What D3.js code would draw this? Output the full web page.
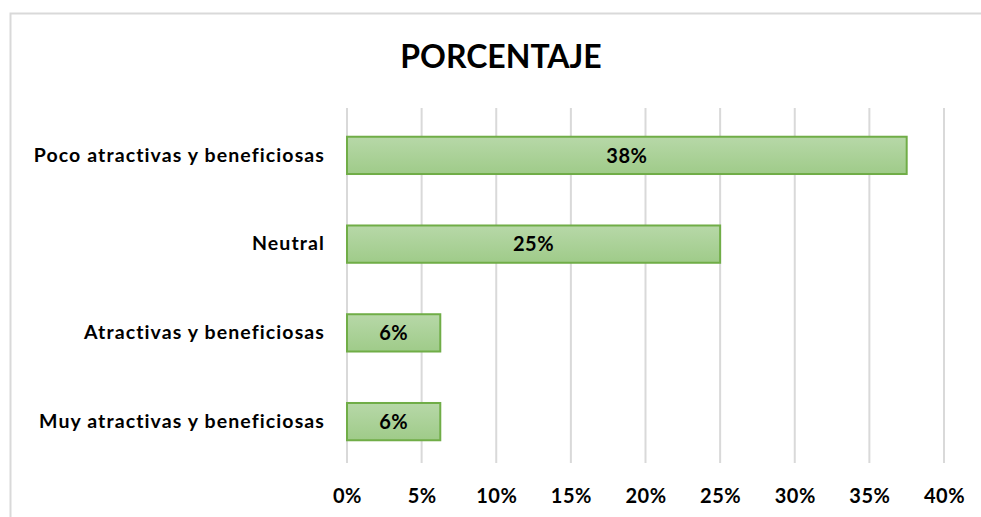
<!DOCTYPE html>
<html>
<head>
<meta charset="utf-8">
<script src="https://cdn.jsdelivr.net/npm/d3@7"></script>
<style>
  body { margin: 0; background: #fff; }
  svg text { font-family: Lato, "Open Sans", sans-serif; font-weight: bold; fill: #000; }
</style>
</head>
<body>
<script>
//chart data
var categories = ["Poco atractivas y beneficiosas", "Neutral", "Atractivas y beneficiosas", "Muy atractivas y beneficiosas"];
var values = [0.375, 0.25, 0.0625, 0.0625];
var tickValues = [0, 0.05, 0.10, 0.15, 0.20, 0.25, 0.30, 0.35, 0.40];

var width = 981,
    height = 517;

var svg = d3.select("body")
    .append("svg")
    .attr("width", width)
    .attr("height", height);

//gradient for the bars
var grad = svg.append("defs").append("linearGradient")
    .attr("id", "barFill")
    .attr("x1", 0).attr("y1", 0).attr("x2", 0).attr("y2", 1);
grad.append("stop").attr("offset", "0%").attr("stop-color", "#b7d8a8");
grad.append("stop").attr("offset", "100%").attr("stop-color", "#9fcb89");

//chart frame
svg.append("rect")
    .attr("x", 10.5).attr("y", 13.5)
    .attr("width", 990).attr("height", 520)
    .attr("fill", "none")
    .attr("stroke", "#d9d9d9")
    .attr("stroke-width", 2);

//title
svg.append("text")
    .attr("x", 501).attr("y", 68)
    .attr("text-anchor", "middle")
    .style("font-size", "32px")
    .text("PORCENTAJE");

var x = d3.scaleLinear()
    .domain([0, 0.40])
    .range([347, 944]);

var y = d3.scaleBand()
    .domain(categories)
    .range([111, 466])
    .paddingInner(0.58)
    .paddingOuter(0.29);

//gridlines
svg.selectAll(".grid")
    .data(tickValues)
    .enter()
    .append("line")
    .attr("class", "grid")
    .attr("x1", function(d){ return x(d); })
    .attr("x2", function(d){ return x(d); })
    .attr("y1", 108)
    .attr("y2", 463)
    .attr("stroke", "#d9d9d9")
    .attr("stroke-width", 2);

//x axis labels
var xAxis = d3.axisBottom(x)
    .tickValues(tickValues)
    .tickSize(0)
    .tickPadding(0)
    .tickFormat(d3.format(".0%"));

var gx = svg.append("g")
    .attr("transform", "translate(0,503)")
    .call(xAxis);
gx.select(".domain").remove();
gx.selectAll("text")
    .style("font-size", "20px")
    .style("letter-spacing", "0.5px")
    .attr("y", 0)
    .attr("dy", 0);

//category labels
var yAxis = d3.axisLeft(y)
    .tickSize(0)
    .tickPadding(22);

var gy = svg.append("g")
    .attr("transform", "translate(347,0)")
    .call(yAxis);
gy.select(".domain").remove();
gy.selectAll("text")
    .style("font-size", "19.5px")
    .style("letter-spacing", "1.1px");

//bars
svg.selectAll(".bar")
    .data(values)
    .enter()
    .append("rect")
    .attr("class", "bar")
    .attr("x", x(0))
    .attr("y", function(d, i){ return y(categories[i]); })
    .attr("width", function(d){ return x(d) - x(0); })
    .attr("height", y.bandwidth())
    .attr("fill", "url(#barFill)")
    .attr("stroke", "#70ad47")
    .attr("stroke-width", 2);

//value labels
svg.selectAll(".val")
    .data(values)
    .enter()
    .append("text")
    .attr("class", "val")
    .attr("x", function(d){ return (x(0) + x(d)) / 2; })
    .attr("y", function(d, i){ return y(categories[i]) + y.bandwidth() / 2; })
    .attr("dy", "0.36em")
    .attr("text-anchor", "middle")
    .style("font-size", "20px")
    .style("letter-spacing", "0.5px")
    .text(function(d){ return d3.format(".0%")(d); });
</script>
</body>
</html>
